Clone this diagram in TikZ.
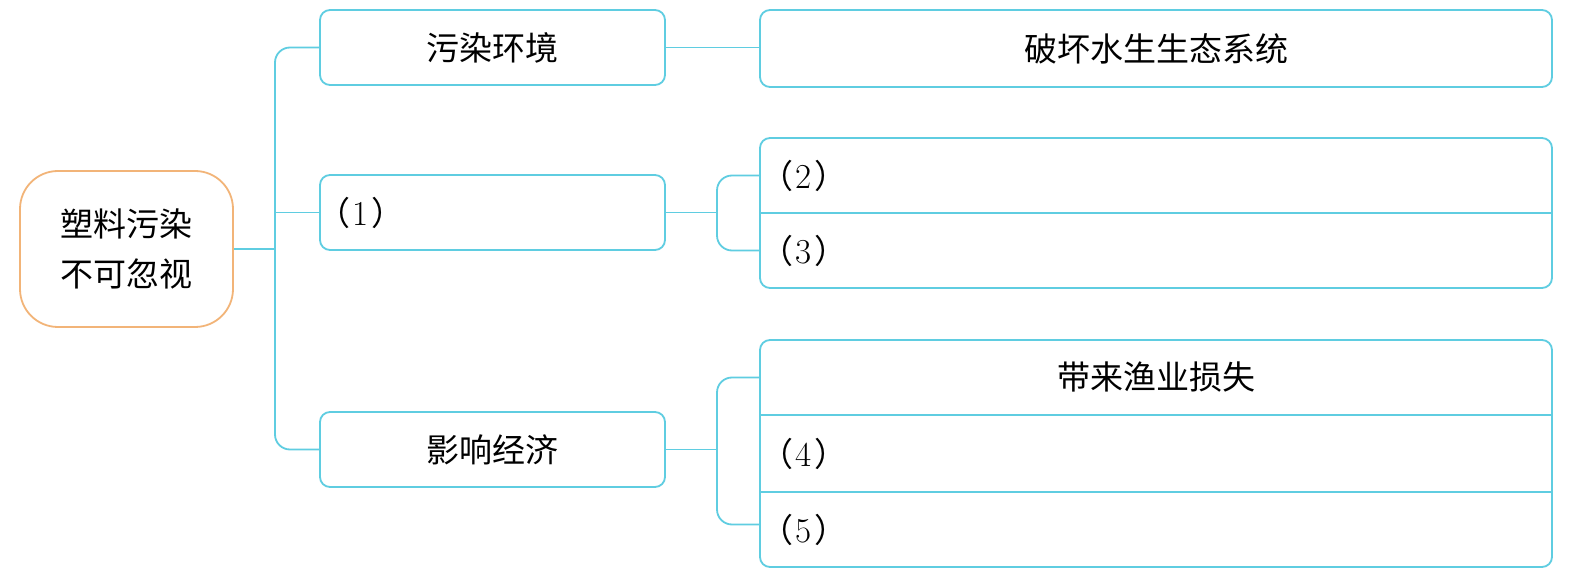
\documentclass[tikz,border=0pt]{standalone}
\usepackage{fontspec}
\newfontfamily\cjk{Noto Sans CJK SC}
\definecolor{cy}{RGB}{95,205,225}
\definecolor{og}{RGB}{242,180,120}
\tikzset{
 box/.style={draw=cy, line width=1.8pt, rounded corners=10pt, inner sep=0pt},
 conn/.style={draw=cy, line width=1.8pt},
 txt/.style={font=\cjk\fontsize{33}{50}\selectfont, inner sep=0pt, text=black},
 row/.style={minimum width=792pt, minimum height=75pt, inner sep=0pt},
}
\newcommand{\pnum}[1]{（\hspace{2pt}{\rmfamily\fontsize{35}{50}\selectfont #1}\hspace{3pt}）}
\begin{document}
\begin{tikzpicture}[x=1pt,y=-1pt]
\useasboundingbox[fill=white] (0,0) rectangle (1572,577);
% coordinates of junctions
\coordinate (bus) at (275,249);
\coordinate (j2) at (717,212.5);
\coordinate (j3) at (717,449.5);
% root
\node[box, draw=og, rounded corners=38pt, minimum width=213pt, minimum height=156pt, txt, align=center] (root) at (126.5,249) {塑料污染\\不可忽视};
% level 1
\node[box, txt, minimum width=345pt, minimum height=75pt] (b1) at (492.5,47.5) {污染环境};
\node[box, minimum width=345pt, minimum height=75pt] (b2) at (492.5,212.5) {};
\node[txt, anchor=west] (l1) at ([xshift=-2pt]b2.west) {\pnum{1}};
\node[box, txt, minimum width=345pt, minimum height=75pt] (b3) at (492.5,449.5) {影响经济};
% level 2
\node[box, txt, minimum width=792pt, minimum height=77pt] (c1) at (1156,48.5) {破坏水生生态系统};
\node[box, minimum width=792pt, minimum height=150pt] (g2) at (1156,213) {};
\node[row] (r2) at (1156,175.5) {};
\node[row] (r3) at (1156,250.5) {};
\node[box, minimum width=792pt, minimum height=227pt] (g3) at (1156,453.5) {};
\node[row, txt] (r4a) at (1156,377.5) {带来渔业损失};
\node[row, minimum height=76pt] (r4) at (1156,453.5) {};
\node[row, minimum height=76pt] (r5) at (1156,529.5) {};
\node[txt, anchor=west] (l2) at (r2.west) {\pnum{2}};
\node[txt, anchor=west] (l3) at (r3.west) {\pnum{3}};
\node[txt, anchor=west] (l4) at (r4.west) {\pnum{4}};
\node[txt, anchor=west] (l5) at (r5.west) {\pnum{5}};
% dividers
\draw[conn] (r2.south west) -- (r2.south east);
\draw[conn] (r4a.south west) -- (r4a.south east);
\draw[conn] (r4.south west) -- (r4.south east);
% connectors
\draw[conn] (root.east) -- (bus);
\draw[conn, rounded corners=15pt] (b1.west) -| (bus) |- (b3.west);
\draw[conn] (bus |- b2.west) -- (b2.west);
\draw[conn] (b1.east) -- (b1.east -| c1.west);
\draw[conn] (b2.east) -- (j2);
\draw[conn, rounded corners=15pt] (r2.west) -| (j2) |- (r3.west);
\draw[conn] (b3.east) -- (j3);
\draw[conn, rounded corners=15pt] (r4a.west) -| (j3) |- ([yshift=5pt]r5.west);
\end{tikzpicture}
\end{document}
